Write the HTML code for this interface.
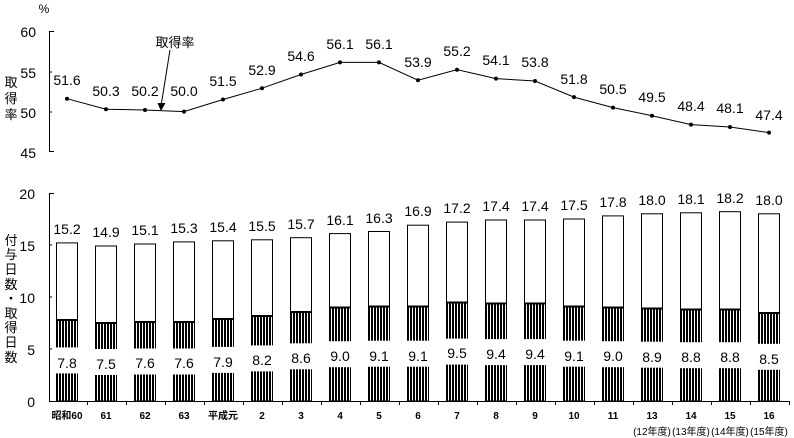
<!DOCTYPE html>
<html><head><meta charset="utf-8"><style>
html,body{margin:0;padding:0;background:#fff}
svg{display:block}
text{font-family:"Liberation Sans","Noto Sans CJK JP",sans-serif;fill:#000}
.v{font-size:14px;text-anchor:middle}
.t{font-size:14px;text-anchor:end}
.x{font-size:10px;text-anchor:middle;font-weight:bold}
.j{font-size:13px;text-anchor:middle}
</style></head><body>
<svg width="794" height="438" viewBox="0 0 794 438" xmlns="http://www.w3.org/2000/svg">
<defs><pattern id="h" width="3" height="4" patternUnits="userSpaceOnUse"><rect x="0" y="0" width="2" height="4" fill="#000"/></pattern></defs>
<!-- top chart axes -->
<text x="44" y="13" class="j" style="font-size:12px">%</text>
<line x1="49.5" y1="31" x2="49.5" y2="152" stroke="#000"/>
<line x1="49" y1="31.5" x2="54" y2="31.5" stroke="#000"/>
<line x1="49" y1="72" x2="52" y2="72" stroke="#000"/>
<line x1="49" y1="112" x2="52" y2="112" stroke="#000"/>
<line x1="49" y1="151.5" x2="54" y2="151.5" stroke="#000"/>
<text x="36" y="37" class="t">60</text>
<text x="36" y="78" class="t">55</text>
<text x="36" y="118" class="t">50</text>
<text x="36" y="158" class="t">45</text>
<text x="11" y="87" class="j">取</text>
<text x="11" y="103" class="j">得</text>
<text x="11" y="119" class="j">率</text>
<polyline fill="none" stroke="#000" points="67,98.7 106,109.2 145,110 184,111.6 223,99.5 262,88.2 301,74.5 340,62.4 379,62.4 418,80.2 457,69.7 496,78.6 535,81 574,97.1 613,107.6 652,115.7 691,124.6 730,127 769,132.6"/>
<g fill="#000">
<circle cx="67" cy="98.7" r="2"/><circle cx="106" cy="109.2" r="2"/><circle cx="145" cy="110" r="2"/><circle cx="184" cy="111.6" r="2"/><circle cx="223" cy="99.5" r="2"/><circle cx="262" cy="88.2" r="2"/><circle cx="301" cy="74.5" r="2"/><circle cx="340" cy="62.4" r="2"/><circle cx="379" cy="62.4" r="2"/><circle cx="418" cy="80.2" r="2"/><circle cx="457" cy="69.7" r="2"/><circle cx="496" cy="78.6" r="2"/><circle cx="535" cy="81" r="2"/><circle cx="574" cy="97.1" r="2"/><circle cx="613" cy="107.6" r="2"/><circle cx="652" cy="115.7" r="2"/><circle cx="691" cy="124.6" r="2"/><circle cx="730" cy="127" r="2"/><circle cx="769" cy="132.6" r="2"/>
</g>
<text class="v" x="67" y="85">51.6</text><text class="v" x="106" y="96">50.3</text><text class="v" x="145" y="96">50.2</text><text class="v" x="184" y="96">50.0</text><text class="v" x="223" y="86">51.5</text><text class="v" x="262" y="75">52.9</text><text class="v" x="301" y="61">54.6</text><text class="v" x="340" y="49">56.1</text><text class="v" x="379" y="49">56.1</text><text class="v" x="418" y="67">53.9</text><text class="v" x="457" y="56">55.2</text><text class="v" x="496" y="65">54.1</text><text class="v" x="535" y="67">53.8</text><text class="v" x="574" y="84">51.8</text><text class="v" x="613" y="94">50.5</text><text class="v" x="652" y="102">49.5</text><text class="v" x="691" y="111">48.4</text><text class="v" x="730" y="113">48.1</text><text class="v" x="769" y="120">47.4</text>
<text x="175" y="47" class="j">取得率</text>
<line x1="170" y1="50" x2="161.5" y2="103" stroke="#000"/>
<polygon points="157.5,103 165.5,103 161,111" fill="#000"/>
<!-- bottom axes -->
<line x1="49.5" y1="193" x2="49.5" y2="401" stroke="#000"/>
<line x1="49" y1="193.5" x2="54" y2="193.5" stroke="#000"/>
<line x1="49" y1="245" x2="52" y2="245" stroke="#000"/>
<line x1="49" y1="297" x2="52" y2="297" stroke="#000"/>
<line x1="49" y1="349" x2="52" y2="349" stroke="#000"/>
<line x1="49" y1="401.5" x2="790" y2="401.5" stroke="#000"/>
<text x="35" y="199" class="t">20</text>
<text x="35" y="251" class="t">15</text>
<text x="35" y="303" class="t">10</text>
<text x="35" y="355" class="t">5</text>
<text x="35" y="407" class="t">0</text>
<text x="11" y="245" class="j">付</text><text x="11" y="259" class="j">与</text><text x="11" y="274" class="j">日</text><text x="11" y="289" class="j">数</text><text x="11" y="303" class="j">・</text><text x="11" y="318" class="j">取</text><text x="11" y="332" class="j">得</text><text x="11" y="347" class="j">日</text><text x="11" y="362" class="j">数</text>
<g stroke="#000"><line x1="87.5" y1="401" x2="87.5" y2="405"/><line x1="126.5" y1="401" x2="126.5" y2="405"/><line x1="165.5" y1="401" x2="165.5" y2="405"/><line x1="204.5" y1="401" x2="204.5" y2="405"/><line x1="243.5" y1="401" x2="243.5" y2="405"/><line x1="282.5" y1="401" x2="282.5" y2="405"/><line x1="321.5" y1="401" x2="321.5" y2="405"/><line x1="360.5" y1="401" x2="360.5" y2="405"/><line x1="399.5" y1="401" x2="399.5" y2="405"/><line x1="438.5" y1="401" x2="438.5" y2="405"/><line x1="477.5" y1="401" x2="477.5" y2="405"/><line x1="516.5" y1="401" x2="516.5" y2="405"/><line x1="555.5" y1="401" x2="555.5" y2="405"/><line x1="594.5" y1="401" x2="594.5" y2="405"/><line x1="633.5" y1="401" x2="633.5" y2="405"/><line x1="672.5" y1="401" x2="672.5" y2="405"/><line x1="711.5" y1="401" x2="711.5" y2="405"/><line x1="750.5" y1="401" x2="750.5" y2="405"/><line x1="789.5" y1="401" x2="789.5" y2="405"/></g>
<!-- bars: translate to left edge; width 22 -->
<g id="bars">
<g transform="translate(56,0)"><rect x="0.5" y="242.9" width="21" height="158.1" fill="#fff" stroke="#000"/><rect x="1" y="319.9" width="21" height="81" fill="url(#h)"/><rect x="0" y="319" width="22" height="2" fill="#000"/><rect x="-1" y="347.4" width="24" height="26" fill="#fff"/><text class="v" x="11" y="368">7.8</text><text class="v" x="11" y="234">15.2</text></g>
<g transform="translate(95,0)"><rect x="0.5" y="246" width="21" height="155" fill="#fff" stroke="#000"/><rect x="1" y="323" width="21" height="78" fill="url(#h)"/><rect x="0" y="322" width="22" height="2" fill="#000"/><rect x="-1" y="349" width="24" height="26" fill="#fff"/><text class="v" x="11" y="369">7.5</text><text class="v" x="11" y="237">14.9</text></g>
<g transform="translate(134,0)"><rect x="0.5" y="244" width="21" height="157" fill="#fff" stroke="#000"/><rect x="1" y="322" width="21" height="79" fill="url(#h)"/><rect x="0" y="321" width="22" height="2" fill="#000"/><rect x="-1" y="348.5" width="24" height="26" fill="#fff"/><text class="v" x="11" y="368">7.6</text><text class="v" x="11" y="235">15.1</text></g>
<g transform="translate(173,0)"><rect x="0.5" y="241.9" width="21" height="159.1" fill="#fff" stroke="#000"/><rect x="1" y="322" width="21" height="79" fill="url(#h)"/><rect x="0" y="321" width="22" height="2" fill="#000"/><rect x="-1" y="348.5" width="24" height="26" fill="#fff"/><text class="v" x="11" y="368">7.6</text><text class="v" x="11" y="233">15.3</text></g>
<g transform="translate(212,0)"><rect x="0.5" y="240.8" width="21" height="160.2" fill="#fff" stroke="#000"/><rect x="1" y="318.8" width="21" height="82.2" fill="url(#h)"/><rect x="0" y="318" width="22" height="2" fill="#000"/><rect x="-1" y="346.9" width="24" height="26" fill="#fff"/><text class="v" x="11" y="367">7.9</text><text class="v" x="11" y="232">15.4</text></g>
<g transform="translate(251,0)"><rect x="0.5" y="239.8" width="21" height="161.2" fill="#fff" stroke="#000"/><rect x="1" y="315.7" width="21" height="85.3" fill="url(#h)"/><rect x="0" y="315" width="22" height="2" fill="#000"/><rect x="-1" y="345.4" width="24" height="26" fill="#fff"/><text class="v" x="11" y="365">8.2</text><text class="v" x="11" y="231">15.5</text></g>
<g transform="translate(290,0)"><rect x="0.5" y="237.7" width="21" height="163.3" fill="#fff" stroke="#000"/><rect x="1" y="311.6" width="21" height="89.4" fill="url(#h)"/><rect x="0" y="311" width="22" height="2" fill="#000"/><rect x="-1" y="343.3" width="24" height="26" fill="#fff"/><text class="v" x="11" y="363">8.6</text><text class="v" x="11" y="229">15.7</text></g>
<g transform="translate(329,0)"><rect x="0.5" y="233.6" width="21" height="167.4" fill="#fff" stroke="#000"/><rect x="1" y="307.4" width="21" height="93.6" fill="url(#h)"/><rect x="0" y="306.5" width="22" height="2" fill="#000"/><rect x="-1" y="341.2" width="24" height="26" fill="#fff"/><text class="v" x="11" y="361">9.0</text><text class="v" x="11" y="225">16.1</text></g>
<g transform="translate(368,0)"><rect x="0.5" y="231.5" width="21" height="169.5" fill="#fff" stroke="#000"/><rect x="1" y="306.4" width="21" height="94.6" fill="url(#h)"/><rect x="0" y="305.5" width="22" height="2" fill="#000"/><rect x="-1" y="340.7" width="24" height="26" fill="#fff"/><text class="v" x="11" y="361">9.1</text><text class="v" x="11" y="223">16.3</text></g>
<g transform="translate(407,0)"><rect x="0.5" y="225.2" width="21" height="175.8" fill="#fff" stroke="#000"/><rect x="1" y="306.4" width="21" height="94.6" fill="url(#h)"/><rect x="0" y="305.5" width="22" height="2" fill="#000"/><rect x="-1" y="340.7" width="24" height="26" fill="#fff"/><text class="v" x="11" y="361">9.1</text><text class="v" x="11" y="216">16.9</text></g>
<g transform="translate(446,0)"><rect x="0.5" y="222.1" width="21" height="178.9" fill="#fff" stroke="#000"/><rect x="1" y="302.2" width="21" height="98.8" fill="url(#h)"/><rect x="0" y="301.5" width="22" height="2" fill="#000"/><rect x="-1" y="338.6" width="24" height="26" fill="#fff"/><text class="v" x="11" y="358">9.5</text><text class="v" x="11" y="213">17.2</text></g>
<g transform="translate(485,0)"><rect x="0.5" y="220" width="21" height="181" fill="#fff" stroke="#000"/><rect x="1" y="303.2" width="21" height="97.8" fill="url(#h)"/><rect x="0" y="302.5" width="22" height="2" fill="#000"/><rect x="-1" y="339.1" width="24" height="26" fill="#fff"/><text class="v" x="11" y="359">9.4</text><text class="v" x="11" y="211">17.4</text></g>
<g transform="translate(524,0)"><rect x="0.5" y="220" width="21" height="181" fill="#fff" stroke="#000"/><rect x="1" y="303.2" width="21" height="97.8" fill="url(#h)"/><rect x="0" y="302.5" width="22" height="2" fill="#000"/><rect x="-1" y="339.1" width="24" height="26" fill="#fff"/><text class="v" x="11" y="359">9.4</text><text class="v" x="11" y="211">17.4</text></g>
<g transform="translate(563,0)"><rect x="0.5" y="219" width="21" height="182" fill="#fff" stroke="#000"/><rect x="1" y="306.4" width="21" height="94.6" fill="url(#h)"/><rect x="0" y="305.5" width="22" height="2" fill="#000"/><rect x="-1" y="340.7" width="24" height="26" fill="#fff"/><text class="v" x="11" y="361">9.1</text><text class="v" x="11" y="210">17.5</text></g>
<g transform="translate(602,0)"><rect x="0.5" y="215.9" width="21" height="185.1" fill="#fff" stroke="#000"/><rect x="1" y="307.4" width="21" height="93.6" fill="url(#h)"/><rect x="0" y="306.5" width="22" height="2" fill="#000"/><rect x="-1" y="341.2" width="24" height="26" fill="#fff"/><text class="v" x="11" y="361">9.0</text><text class="v" x="11" y="207">17.8</text></g>
<g transform="translate(641,0)"><rect x="0.5" y="213.8" width="21" height="187.2" fill="#fff" stroke="#000"/><rect x="1" y="308.4" width="21" height="92.6" fill="url(#h)"/><rect x="0" y="307.5" width="22" height="2" fill="#000"/><rect x="-1" y="341.7" width="24" height="26" fill="#fff"/><text class="v" x="11" y="362">8.9</text><text class="v" x="11" y="205">18.0</text></g>
<g transform="translate(680,0)"><rect x="0.5" y="212.8" width="21" height="188.2" fill="#fff" stroke="#000"/><rect x="1" y="309.5" width="21" height="91.5" fill="url(#h)"/><rect x="0" y="308.5" width="22" height="2" fill="#000"/><rect x="-1" y="342.2" width="24" height="26" fill="#fff"/><text class="v" x="11" y="362">8.8</text><text class="v" x="11" y="204">18.1</text></g>
<g transform="translate(719,0)"><rect x="0.5" y="211.7" width="21" height="189.3" fill="#fff" stroke="#000"/><rect x="1" y="309.5" width="21" height="91.5" fill="url(#h)"/><rect x="0" y="308.5" width="22" height="2" fill="#000"/><rect x="-1" y="342.2" width="24" height="26" fill="#fff"/><text class="v" x="11" y="362">8.8</text><text class="v" x="11" y="203">18.2</text></g>
<g transform="translate(758,0)"><rect x="0.5" y="213.8" width="21" height="187.2" fill="#fff" stroke="#000"/><rect x="1" y="312.6" width="21" height="88.4" fill="url(#h)"/><rect x="0" y="312" width="22" height="2" fill="#000"/><rect x="-1" y="343.8" width="24" height="26" fill="#fff"/><text class="v" x="11" y="364">8.5</text><text class="v" x="11" y="205">18.0</text></g>
</g>
<!-- x labels -->
<text class="x" x="67" y="419">昭和60</text><text class="x" x="106" y="419">61</text><text class="x" x="145" y="419">62</text><text class="x" x="184" y="419">63</text><text class="x" x="223" y="419">平成元</text><text class="x" x="262" y="419">2</text><text class="x" x="301" y="419">3</text><text class="x" x="340" y="419">4</text><text class="x" x="379" y="419">5</text><text class="x" x="418" y="419">6</text><text class="x" x="457" y="419">7</text><text class="x" x="496" y="419">8</text><text class="x" x="535" y="419">9</text><text class="x" x="574" y="419">10</text><text class="x" x="613" y="419">11</text><text class="x" x="652" y="419">13</text><text class="x" x="691" y="419">14</text><text class="x" x="730" y="419">15</text><text class="x" x="769" y="419">16</text>
<text class="x" x="652" y="435" style="font-weight:normal">(12年度)</text><text class="x" x="691" y="435" style="font-weight:normal">(13年度)</text><text class="x" x="730" y="435" style="font-weight:normal">(14年度)</text><text class="x" x="769" y="435" style="font-weight:normal">(15年度)</text>
</svg>
</body></html>
